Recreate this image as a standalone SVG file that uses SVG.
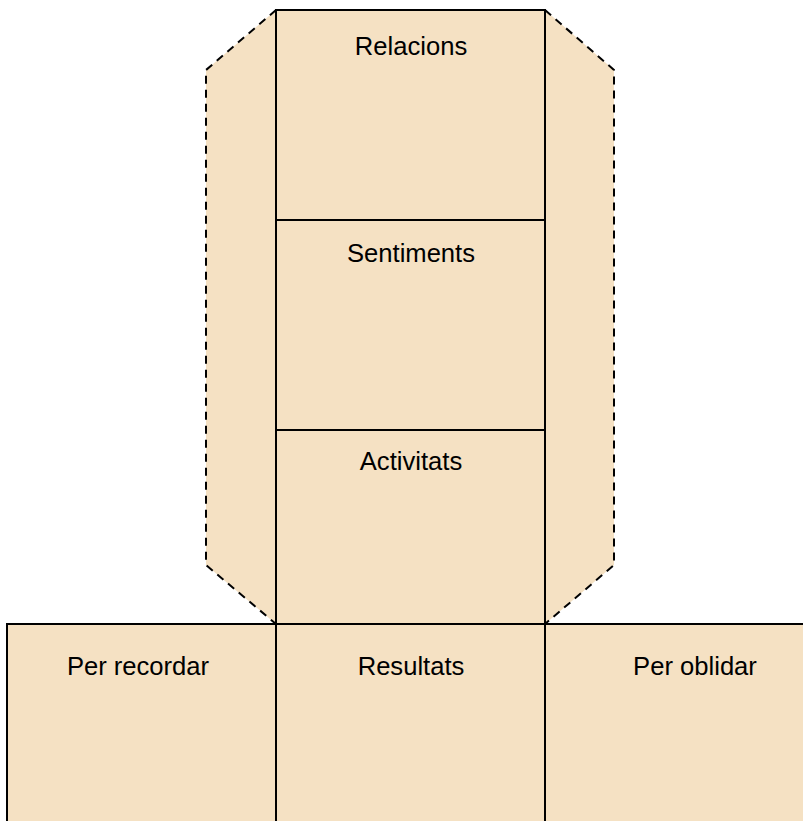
<svg xmlns="http://www.w3.org/2000/svg" width="803" height="821" viewBox="0 0 803 821">
<style>
.box{fill:#F5E1C3;stroke:#000;stroke-width:2}
.flap{fill:#F5E1C3;stroke:none}
.dash{fill:none;stroke:#000;stroke-width:2;stroke-dasharray:8,6}
text{font-family:"Liberation Sans",Arial,sans-serif;font-size:25.6px;fill:#000;text-anchor:middle}
</style>
<rect width="803" height="821" fill="#fff"/>
<g id="flaps">
<polygon class="flap" points="276,10 206,70 206,565 276,624"/>
<polygon class="flap" points="545,10 614,70 614,565 545,624"/>
<polyline class="dash" points="276,10 206,70 206,565 276,624"/>
<polyline class="dash" points="545,10 614,70 614,565 545,624"/>
</g>
<g id="relacions"><rect class="box" x="276" y="10" width="269" height="210"/><text x="411" y="55">Relacions</text></g>
<g id="sentiments"><rect class="box" x="276" y="220" width="269" height="210"/><text x="411" y="262">Sentiments</text></g>
<g id="activitats"><rect class="box" x="276" y="430" width="269" height="194"/><text x="411" y="470">Activitats</text></g>
<g id="per-recordar"><rect class="box" x="7" y="624" width="269" height="210"/><text x="138" y="675">Per recordar</text></g>
<g id="resultats"><rect class="box" x="276" y="624" width="269" height="210"/><text x="411" y="675">Resultats</text></g>
<g id="per-oblidar"><rect class="box" x="545" y="624" width="269" height="210"/><text x="695" y="675">Per oblidar</text></g>
<g id="connectors"></g>
</svg>
